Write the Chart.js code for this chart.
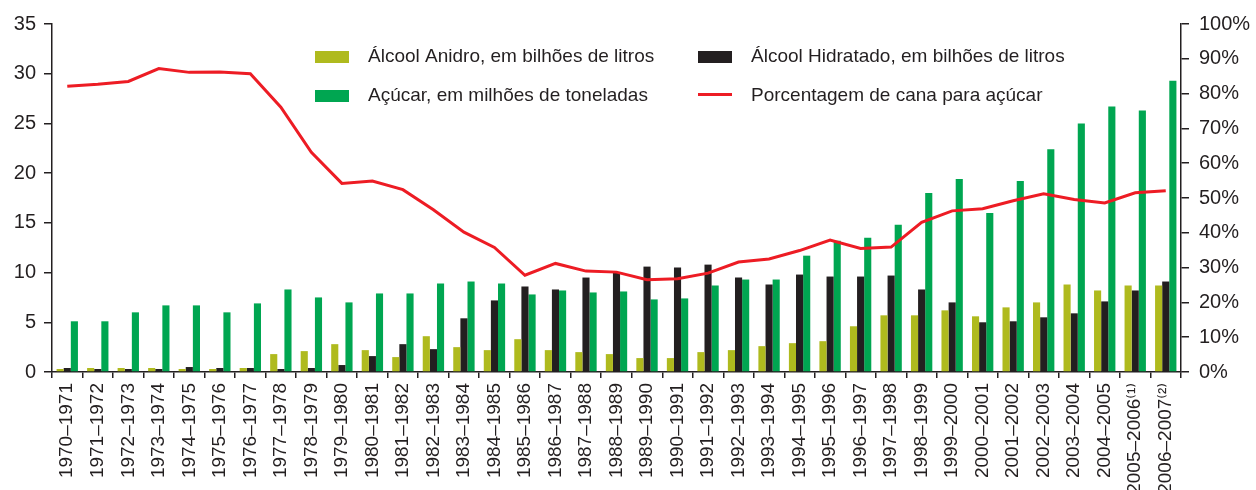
<!DOCTYPE html>
<html lang="pt">
<head>
<meta charset="utf-8">
<script src="https://cdn.jsdelivr.net/npm/chart.js@4.4.1/dist/chart.umd.min.js"></script>
<style>
  html, body { margin: 0; padding: 0; background: #fff; }
  canvas { display: block; }
</style>
</head>
<body>
<canvas id="chart" width="1256" height="490"></canvas>
<script>
// safras 1970-1971 ... 2006-2007
const safras = [
  "1970–1971", "1971–1972", "1972–1973", "1973–1974", "1974–1975", "1975–1976",
  "1976–1977", "1977–1978", "1978–1979", "1979–1980", "1980–1981", "1981–1982",
  "1982–1983", "1983–1984", "1984–1985", "1985–1986", "1986–1987", "1987–1988",
  "1988–1989", "1989–1990", "1990–1991", "1991–1992", "1992–1993", "1993–1994",
  "1994–1995", "1995–1996", "1996–1997", "1997–1998", "1998–1999", "1999–2000",
  "2000–2001", "2001–2002", "2002–2003", "2003–2004", "2004–2005",
  "2005–2006⁽¹⁾", "2006–2007⁽²⁾"
];

// bilhões de litros
const alcoolAnidro = [
  0.3, 0.4, 0.4, 0.4, 0.3, 0.3, 0.4, 1.8, 2.1, 2.8, 2.2, 1.5,
  3.6, 2.5, 2.2, 3.3, 2.2, 2.0, 1.8, 1.4, 1.4, 2.0, 2.2, 2.6,
  2.9, 3.1, 4.6, 5.7, 5.7, 6.2, 5.6, 6.5, 7.0, 8.8, 8.2, 8.7, 8.7
];
const alcoolHidratado = [
  0.4, 0.3, 0.3, 0.3, 0.5, 0.4, 0.4, 0.3, 0.4, 0.7, 1.6, 2.8,
  2.3, 5.4, 7.2, 8.6, 8.3, 9.5, 10.0, 10.6, 10.5, 10.8, 9.5, 8.8,
  9.8, 9.6, 9.6, 9.7, 8.3, 7.0, 5.0, 5.1, 5.5, 5.9, 7.1, 8.2, 9.1
];
// milhões de toneladas
const acucar = [
  5.1, 5.1, 6.0, 6.7, 6.7, 6.0, 6.9, 8.3, 7.5, 7.0, 7.9, 7.9,
  8.9, 9.1, 8.9, 7.8, 8.2, 8.0, 8.1, 7.3, 7.4, 8.7, 9.3, 9.3,
  11.7, 13.2, 13.5, 14.8, 18.0, 19.4, 16.0, 19.2, 22.4, 25.0, 26.7, 26.3, 29.3
];
// % da cana destinada ao açúcar
const pctCanaAcucar = [
  82.1, 82.7, 83.5, 87.2, 86.1, 86.2, 85.7, 76.1, 63.1, 54.2, 54.9, 52.4,
  46.6, 40.2, 35.8, 27.8, 31.2, 29.0, 28.7, 26.5, 26.8, 28.4, 31.6, 32.5,
  34.9, 37.9, 35.5, 35.9, 43.0, 46.3, 46.9, 49.2, 51.2, 49.6, 48.6, 51.5, 52.1
];

const INK = "#231F20";
const FONT = "'Liberation Sans', Arial, Helvetica, 'DejaVu Sans', sans-serif";

// legend drawn as a 2x2 block inside the plot
const legendBlock = {
  id: "legendBlock",
  afterDraw(chart) {
    const ctx = chart.ctx;
    const byLabel = {};
    chart.data.datasets.forEach((d) => (byLabel[d.label] = d));
    const slots = [
      { label: "Álcool Anidro, em bilhões de litros", x: 315, y: 57 },
      { label: "Álcool Hidratado, em bilhões de litros", x: 698, y: 57 },
      { label: "Açúcar, em milhões de toneladas", x: 315, y: 96 },
      { label: "Porcentagem de cana para açúcar", x: 698, y: 96 },
    ];
    ctx.save();
    ctx.font = "19px " + FONT;
    ctx.textBaseline = "middle";
    ctx.fillStyle = INK;
    for (const s of slots) {
      const d = byLabel[s.label];
      if (d.type === "line") {
        ctx.strokeStyle = d.borderColor;
        ctx.lineWidth = 3;
        ctx.beginPath();
        ctx.moveTo(s.x, s.y - 1.5);
        ctx.lineTo(s.x + 34, s.y - 1.5);
        ctx.stroke();
      } else {
        ctx.fillStyle = d.backgroundColor;
        ctx.fillRect(s.x, s.y - 6, 34, 12);
      }
      ctx.fillStyle = INK;
      ctx.fillText(s.label, s.x + 53, s.y);
    }
    ctx.restore();
  },
};

const ctx = document.getElementById("chart").getContext("2d");
new Chart(ctx, {
  data: {
    labels: safras,
    datasets: [
      {
        type: "line",
        label: "Porcentagem de cana para açúcar",
        data: pctCanaAcucar,
        yAxisID: "y1",
        borderColor: "#ED1C24",
        borderWidth: 3,
        pointRadius: 0,
        tension: 0,
        order: 0,
      },
      {
        type: "bar",
        label: "Álcool Anidro, em bilhões de litros",
        data: alcoolAnidro,
        backgroundColor: "#AFBA1E",
        order: 1,
      },
      {
        type: "bar",
        label: "Álcool Hidratado, em bilhões de litros",
        data: alcoolHidratado,
        backgroundColor: INK,
        order: 1,
      },
      {
        type: "bar",
        label: "Açúcar, em milhões de toneladas",
        data: acucar,
        backgroundColor: "#00A651",
        order: 1,
      },
    ],
  },
  options: {
    responsive: false,
    animation: false,
    layout: { padding: { top: 24 } },
    datasets: {
      bar: { categoryPercentage: 0.7, barPercentage: 1.0 },
    },
    plugins: {
      legend: { display: false },
      tooltip: { enabled: false },
    },
    scales: {
      x: {
        offset: true,
        grid: {
          offset: true,
          drawOnChartArea: false,
          drawTicks: true,
          tickLength: 6,
          color: INK,
          lineWidth: 1.5,
        },
        border: { display: true, color: INK, width: 1.5 },
        ticks: {
          minRotation: 90,
          maxRotation: 90,
          autoSkip: false,
          padding: 5,
          color: INK,
          font: { family: FONT, size: 19 },
        },
        afterFit: (scale) => { scale.height = 118; },
      },
      y: {
        position: "left",
        min: 0,
        max: 35,
        ticks: {
          stepSize: 5,
          padding: 8,
          color: INK,
          font: { family: FONT, size: 20 },
        },
        grid: {
          drawOnChartArea: false,
          drawTicks: true,
          tickLength: 8,
          color: INK,
          lineWidth: 1.5,
        },
        border: { display: true, color: INK, width: 1.5 },
        afterFit: (scale) => { scale.width = 52; },
      },
      y1: {
        position: "right",
        min: 0,
        max: 100,
        ticks: {
          stepSize: 10,
          padding: 10,
          color: INK,
          font: { family: FONT, size: 20 },
          callback: (v) => v + "%",
        },
        grid: {
          drawOnChartArea: false,
          drawTicks: true,
          tickLength: 8,
          color: INK,
          lineWidth: 1.5,
        },
        border: { display: true, color: INK, width: 1.5 },
        afterFit: (scale) => { scale.width = 75; },
      },
    },
  },
  plugins: [legendBlock],
});
</script>
</body>
</html>
